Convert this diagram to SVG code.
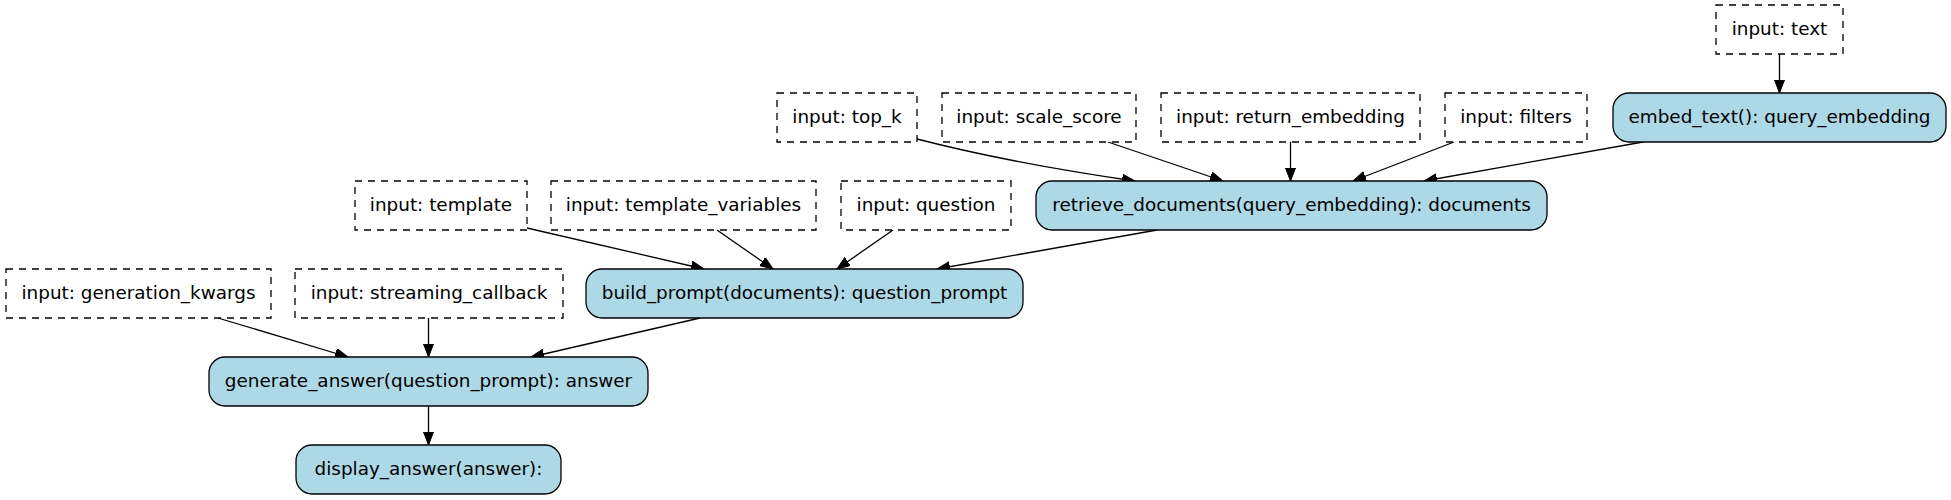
<svg xmlns="http://www.w3.org/2000/svg" width="1951" height="500" viewBox="0 0 1951 500">
<style>
  .fn rect { fill: #add8e6; stroke: #000; stroke-width: 1.3; }
  .in rect { fill: #fff; stroke: #000; stroke-width: 1.3; stroke-dasharray: 7,6; }
  text { font-family: "DejaVu Sans", sans-serif; font-size: 18.4px; fill: #000; text-anchor: middle; }
  #edges path, #edges line { stroke: #000; stroke-width: 1.3; fill: none; marker-end: url(#arrow); }
</style>
<defs>
  <marker id="arrow" markerUnits="userSpaceOnUse" markerWidth="14" markerHeight="11" refX="13" refY="5" orient="auto">
    <path d="M0,0 L13,5 L0,10 Z" fill="#000" stroke="#000" stroke-width="1"/>
  </marker>
</defs>
<rect width="1951" height="500" fill="#fff"/>

<g id="edges">
  <line x1="1779.5" y1="54" x2="1779.5" y2="93"/>
  <line x1="1643" y1="142" x2="1424" y2="181"/>
  <line x1="1454" y1="142" x2="1353" y2="181"/>
  <line x1="1290.5" y1="142" x2="1290.5" y2="181"/>
  <line x1="1108" y1="142" x2="1223" y2="181"/>
  <path d="M917,139 Q1010,163 1135,181"/>
  <line x1="1157" y1="230" x2="937" y2="269"/>
  <line x1="893" y1="230" x2="837" y2="269"/>
  <line x1="717" y1="230" x2="773" y2="269"/>
  <line x1="527" y1="228" x2="704" y2="269"/>
  <line x1="218" y1="318" x2="348" y2="357"/>
  <line x1="428.5" y1="318" x2="428.5" y2="357"/>
  <line x1="700" y1="318" x2="531" y2="357"/>
  <line x1="428.5" y1="406" x2="428.5" y2="445"/>
</g>

<g id="input_text" class="in"><rect x="1716" y="5" width="127" height="49"/><text x="1779.5" y="35">input: text</text></g>

<g id="input_top_k" class="in"><rect x="777" y="93" width="140" height="49"/><text x="847" y="123">input: top_k</text></g>
<g id="input_scale_score" class="in"><rect x="942" y="93" width="194" height="49"/><text x="1039" y="123">input: scale_score</text></g>
<g id="input_return_embedding" class="in"><rect x="1161" y="93" width="259" height="49"/><text x="1290.5" y="123">input: return_embedding</text></g>
<g id="input_filters" class="in"><rect x="1445" y="93" width="142" height="49"/><text x="1516" y="123">input: filters</text></g>
<g id="embed_text" class="fn"><rect x="1613" y="93" width="333" height="49" rx="16" ry="16"/><text x="1779.5" y="123">embed_text(): query_embedding</text></g>

<g id="input_template" class="in"><rect x="355" y="181" width="172" height="49"/><text x="441" y="211">input: template</text></g>
<g id="input_template_variables" class="in"><rect x="551" y="181" width="265" height="49"/><text x="683.5" y="211">input: template_variables</text></g>
<g id="input_question" class="in"><rect x="841" y="181" width="170" height="49"/><text x="926" y="211">input: question</text></g>
<g id="retrieve_documents" class="fn"><rect x="1036" y="181" width="511" height="49" rx="16" ry="16"/><text x="1291.5" y="211">retrieve_documents(query_embedding): documents</text></g>

<g id="input_generation_kwargs" class="in"><rect x="6" y="269" width="265" height="49"/><text x="138.5" y="299">input: generation_kwargs</text></g>
<g id="input_streaming_callback" class="in"><rect x="295" y="269" width="268" height="49"/><text x="429" y="299">input: streaming_callback</text></g>
<g id="build_prompt" class="fn"><rect x="586" y="269" width="437" height="49" rx="16" ry="16"/><text x="804.5" y="299">build_prompt(documents): question_prompt</text></g>

<g id="generate_answer" class="fn"><rect x="209" y="357" width="439" height="49" rx="16" ry="16"/><text x="428.5" y="387">generate_answer(question_prompt): answer</text></g>

<g id="display_answer" class="fn"><rect x="296" y="445" width="265" height="49" rx="16" ry="16"/><text x="428.5" y="475">display_answer(answer):</text></g>
</svg>
